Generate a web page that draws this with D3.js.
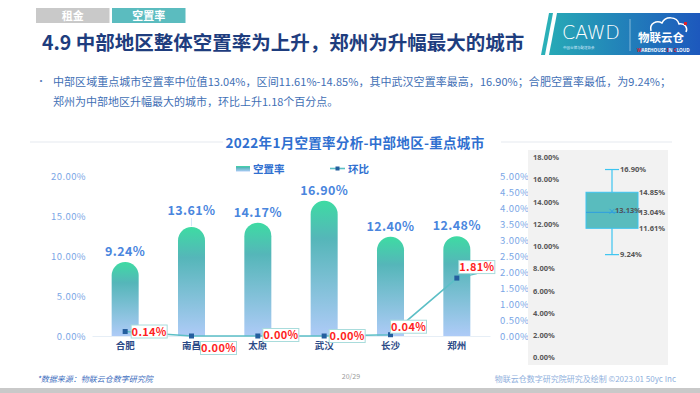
<!DOCTYPE html>
<html>
<head>
<meta charset="utf-8">
<script src="https://cdn.jsdelivr.net/npm/d3@7"></script>
<style>
  html, body { margin: 0; padding: 0; background: #fff; }
  svg { display: block; font-family: "Noto Sans CJK SC", "Noto Sans", sans-serif; }
</style>
</head>
<body>
<div id="chart"></div>
<script>
// data
var cities   = ['合肥', '南昌', '太原', '武汉', '长沙', '郑州'];
var rates    = [9.24, 13.61, 14.17, 16.90, 12.40, 12.48];   // 空置率 %
var changes  = [0.14, 0.00, 0.00, 0.00, 0.04, 1.81];        // 环比 %
var leftTicks  = [0, 5, 10, 15, 20];
var rightTicks = [0, 0.5, 1, 1.5, 2, 2.5, 3, 3.5, 4, 4.5, 5];
var boxTicks   = [0, 2, 4, 6, 8, 10, 12, 14, 16, 18];

var tabs      = ['租金', '空置率'];
var pageTitle = '4.9 中部地区整体空置率为上升，郑州为升幅最大的城市';
var bullet1   = '中部区域重点城市空置率中位值13.04%，区间11.61%-14.85%，其中武汉空置率最高，16.90%；合肥空置率最低，为9.24%；';
var bullet2   = '郑州为中部地区升幅最大的城市，环比上升1.18个百分点。';
var chartTitle = '2022年1月空置率分析-中部地区-重点城市';

// label box placement for the 环比 labels (offset from the point)
var labelShift = [[6, 0], [9, 12], [5, -1], [5, 0], [0, -8], [2, -11]];

var fmt = d3.format('.2f');
function pct(v) { return fmt(v) + '%'; }
function trunc2(v) { return Math.floor(v * 100 + 1e-6) / 100; }

var W = 700, H = 393;
var svg = d3.select('#chart').append('svg').attr('width', W).attr('height', H);
var defs = svg.append('defs');

// ---------- header
svg.selectAll('rect.tab')
    .data(tabs).enter().append('rect')
    .attr('x', function(d, i) { return 36 + i * 76; })
    .attr('y', 8).attr('width', 73.5).attr('height', 15)
    .attr('fill', function(d, i) { return i === 0 ? '#c9c9c9' : '#5bbcbf'; });
svg.selectAll('text.tab')
    .data(tabs).enter().append('text')
    .attr('x', function(d, i) { return 36 + i * 76 + 36.7; })
    .attr('y', 19.5).attr('text-anchor', 'middle')
    .attr('font-size', '11px').attr('font-weight', 'bold').attr('fill', '#fff')
    .text(function(d) { return d; });

svg.append('text')
    .attr('x', 42).attr('y', 50)
    .attr('font-size', '19.5px').attr('font-weight', 'bold').attr('fill', '#1e3d7e')
    .text(pageTitle);

// logo
var lg = defs.append('linearGradient').attr('id', 'logo-grad');
lg.append('stop').attr('offset', '0%').attr('stop-color', '#27a9b6');
lg.append('stop').attr('offset', '100%').attr('stop-color', '#1d58bd');
svg.append('polygon').attr('points', '549,13 553,13 545,55 541,55').attr('fill', '#2bb0b8');
svg.append('polygon').attr('points', '557,13 700,13 700,55 549,55').attr('fill', 'url(#logo-grad)');
svg.append('text').attr('x', 562).attr('y', 39)
    .attr('font-family', 'DejaVu Sans, sans-serif')
    .attr('font-size', '19px').attr('font-weight', '300').attr('fill', '#fff')
    .attr('textLength', 58).text('CAWD');
svg.append('text').attr('x', 563).attr('y', 48.5)
    .attr('font-size', '3.5px').attr('fill', '#dfefff').text('中国仓储与配送协会');
svg.append('line').attr('x1', 630).attr('x2', 630).attr('y1', 19).attr('y2', 51)
    .attr('stroke', '#fff').attr('stroke-opacity', 0.45);
svg.append('path')
    .attr('d', 'M651,31 C649,23 657,20 662,23 C665,16 677,16 679,24 C685,23 688,28 686,32')
    .attr('fill', 'none').attr('stroke', '#fff').attr('stroke-width', 1.5);
svg.append('rect').attr('x', 684).attr('y', 22).attr('width', 3).attr('height', 3).attr('fill', '#e0202a');
svg.append('text').attr('x', 638).attr('y', 42)
    .attr('font-size', '11.5px').attr('font-weight', 'bold').attr('fill', '#fff').text('物联云仓');
var wic = svg.append('text').attr('x', 637).attr('y', 51.5)
    .attr('font-family', '"Noto Sans", sans-serif')
    .attr('font-size', '4.6px').attr('font-weight', 'bold').attr('fill', '#fff');
[['W', '#e0202a'], ['AREHOUSE ', '#fff'], ['I', '#e0202a'], ['N ', '#fff'], ['C', '#e0202a'], ['LOUD', '#fff']]
    .forEach(function(p) { wic.append('tspan').attr('fill', p[1]).text(p[0]); });

// bullet text
svg.append('text').attr('x', 36).attr('y', 85)
    .attr('font-size', '10px').attr('fill', '#5a7db8').text('•');
svg.append('text').attr('x', 53).attr('y', 85.5)
    .attr('font-size', '11px').attr('fill', '#3f6fb5').attr('textLength', 618)
    .text(bullet1);
svg.append('text').attr('x', 53).attr('y', 106)
    .attr('font-size', '11px').attr('fill', '#3f6fb5')
    .text(bullet2);

// ---------- main chart
svg.append('line').attr('x1', 30).attr('x2', 223).attr('y1', 142).attr('y2', 142)
    .attr('stroke', '#eef1f4').attr('stroke-width', 1.5);
svg.append('line').attr('x1', 501).attr('x2', 672).attr('y1', 142).attr('y2', 142)
    .attr('stroke', '#eef1f4').attr('stroke-width', 1.5);
svg.append('text').attr('x', 355).attr('y', 148).attr('text-anchor', 'middle')
    .attr('font-size', '13.5px').attr('font-weight', 'bold').attr('fill', '#2f6fd0')
    .attr('letter-spacing', '0.3px')
    .text(chartTitle);

var x_scale = d3.scaleBand().domain(cities).range([92, 490]);
var yL = d3.scaleLinear().domain([0, 20]).range([336, 176]);
var yR = d3.scaleLinear().domain([0, 5]).range([336, 176]);

// axes
var leftAxis = svg.append('g').attr('transform', 'translate(86,0)')
    .call(d3.axisLeft(yL).tickValues(leftTicks).tickSize(0).tickPadding(0)
        .tickFormat(function(d) { return pct(d); }));
var rightAxis = svg.append('g').attr('transform', 'translate(500,0)')
    .call(d3.axisRight(yR).tickValues(rightTicks).tickSize(0).tickPadding(0)
        .tickFormat(function(d) { return pct(d); }));
[leftAxis, rightAxis].forEach(function(ax) {
    ax.select('.domain').remove();
    ax.selectAll('text')
        .attr('font-family', '"Noto Sans CJK SC", sans-serif')
        .attr('font-size', '9.5px').attr('fill', '#7aa6e6')
        .attr('letter-spacing', '0.4px');
});

var xAxis = svg.append('g').attr('transform', 'translate(0,336)')
    .call(d3.axisBottom(x_scale).tickSize(0).tickPadding(6));
xAxis.select('.domain').attr('stroke', '#e6eef6');
xAxis.selectAll('text')
    .attr('font-family', '"Noto Sans CJK SC", sans-serif')
    .attr('font-size', '9.5px').attr('font-weight', 'bold').attr('fill', '#2b4a86');

// bar gradient
var bg = defs.append('linearGradient').attr('id', 'bar-grad')
    .attr('x1', 0).attr('y1', 0).attr('x2', 0).attr('y2', 1);
bg.append('stop').attr('offset', '0%').attr('stop-color', '#3edba3');
bg.append('stop').attr('offset', '28%').attr('stop-color', '#55b6b9');
bg.append('stop').attr('offset', '100%').attr('stop-color', '#aecbf7');

var barW = 27, r = barW / 2;
svg.append('g').selectAll('path')
    .data(rates).enter().append('path')
    .attr('d', function(d, i) {
        var x0 = x_scale(cities[i]) + (x_scale.bandwidth() - barW) / 2;
        var top = yL(d);
        return 'M' + x0 + ',' + yL(0) + 'V' + (top + r) +
            'A' + r + ',' + r + ' 0 0 1 ' + (x0 + barW) + ',' + (top + r) +
            'V' + yL(0) + 'Z';
    })
    .attr('fill', 'url(#bar-grad)');

svg.append('g').selectAll('text')
    .data(rates).enter().append('text')
    .attr('x', function(d, i) { return x_scale(cities[i]) + x_scale.bandwidth() / 2; })
    .attr('y', function(d, i) { return yL(d) - (i === 1 ? 12 : 6); })
    .attr('text-anchor', 'middle')
    .attr('font-size', '12.5px').attr('font-weight', 'bold').attr('fill', '#4a86de')
    .attr('letter-spacing', '0.4px')
    .text(function(d) { return pct(d); });
// leader for 南昌 label
svg.append('line')
    .attr('x1', x_scale(cities[1]) + x_scale.bandwidth() / 2)
    .attr('x2', x_scale(cities[1]) + x_scale.bandwidth() / 2)
    .attr('y1', yL(rates[1]) - 9).attr('y2', yL(rates[1]) - 1)
    .attr('stroke', '#d6e6f8');

// line series
var cx = function(i) { return x_scale(cities[i]) + x_scale.bandwidth() / 2; };
var line = d3.line()
    .x(function(d, i) { return cx(i); })
    .y(function(d) { return yR(d); });
svg.append('path').datum(changes)
    .attr('d', line).attr('fill', 'none')
    .attr('stroke', '#5cbfc6').attr('stroke-width', 1.6);

// leader for 郑州 label
svg.append('line')
    .attr('x1', cx(5)).attr('y1', yR(changes[5]))
    .attr('x2', cx(5) + labelShift[5][0] + 18).attr('y2', yR(changes[5]) + labelShift[5][1] + 6.5)
    .attr('stroke', '#5cbfc6').attr('stroke-width', 1.2);

svg.append('g').selectAll('rect')
    .data(changes).enter().append('rect')
    .attr('x', function(d, i) { return cx(i) - 2.5; })
    .attr('y', function(d) { return yR(d) - 2.5; })
    .attr('width', 5).attr('height', 5)
    .attr('fill', '#245e9e');

var lbl = svg.append('g').selectAll('g')
    .data(changes).enter().append('g')
    .attr('transform', function(d, i) {
        return 'translate(' + (cx(i) + labelShift[i][0]) + ',' + (yR(d) + labelShift[i][1]) + ')';
    });
lbl.append('rect')
    .attr('x', 0).attr('y', -6.5).attr('width', 36).attr('height', 13)
    .attr('fill', '#fff').attr('stroke', '#a9dcdc').attr('stroke-width', 1);
lbl.append('text')
    .attr('x', 18).attr('y', 4.2).attr('text-anchor', 'middle')
    .attr('font-size', '11px').attr('font-weight', 'bold').attr('fill', '#ff1f1f')
    .attr('letter-spacing', '0.3px')
    .text(function(d) { return pct(d); });

// legend
svg.append('rect').attr('x', 236).attr('y', 166).attr('width', 14).attr('height', 5.5)
    .attr('fill', 'url(#bar-grad)');
svg.append('text').attr('x', 253).attr('y', 172.5)
    .attr('font-size', '10.5px').attr('font-weight', 'bold').attr('fill', '#2f6fd0').text('空置率');
svg.append('line').attr('x1', 330).attr('x2', 345).attr('y1', 168.5).attr('y2', 168.5)
    .attr('stroke', '#5cbfc6').attr('stroke-width', 1.6);
svg.append('rect').attr('x', 335.5).attr('y', 166.5).attr('width', 4).attr('height', 4).attr('fill', '#245e9e');
svg.append('text').attr('x', 348).attr('y', 172.5)
    .attr('font-size', '10.5px').attr('font-weight', 'bold').attr('fill', '#2f6fd0').text('环比');

// ---------- box plot panel
svg.append('rect').attr('x', 528).attr('y', 150).attr('width', 140).attr('height', 215)
    .attr('fill', '#f2f2f2');
var yB = d3.scaleLinear().domain([0, 18]).range([357.3, 157.3]);
var boxAxis = svg.append('g').attr('transform', 'translate(533,0)')
    .call(d3.axisRight(yB).tickValues(boxTicks).tickSize(0).tickPadding(0)
        .tickFormat(function(d) { return pct(d); }));
boxAxis.select('.domain').remove();
boxAxis.selectAll('text')
    .attr('font-family', '"Noto Sans", sans-serif')
    .attr('font-size', '7.5px').attr('font-weight', 'bold').attr('fill', '#595959');

// statistics (exclusive quartiles)
var sorted = rates.slice().sort(d3.ascending);
function qExc(arr, p) {
    var pos = (arr.length + 1) * p;
    var lo = Math.floor(pos), f = pos - lo;
    return arr[lo - 1] + f * (arr[lo] - arr[lo - 1]);
}
var st = {
    min: d3.min(sorted), max: d3.max(sorted),
    q1: qExc(sorted, 0.25), q3: qExc(sorted, 0.75),
    med: d3.median(sorted), mean: d3.mean(sorted)
};
var bx0 = 586, bx1 = 638, bcx = 612;
var boxStroke = '#3cc4f0';
svg.append('line').attr('x1', bcx).attr('x2', bcx).attr('y1', yB(st.max)).attr('y2', yB(st.q3))
    .attr('stroke', boxStroke).attr('stroke-width', 1.2);
svg.append('line').attr('x1', bcx).attr('x2', bcx).attr('y1', yB(st.q1)).attr('y2', yB(st.min))
    .attr('stroke', boxStroke).attr('stroke-width', 1.2);
[st.max, st.min].forEach(function(v) {
    svg.append('line').attr('x1', bcx - 7).attr('x2', bcx + 7).attr('y1', yB(v)).attr('y2', yB(v))
        .attr('stroke', boxStroke).attr('stroke-width', 1.2);
});
svg.append('rect').attr('x', bx0).attr('y', yB(st.q3))
    .attr('width', bx1 - bx0).attr('height', yB(st.q1) - yB(st.q3))
    .attr('fill', '#59bcbe').attr('stroke', boxStroke).attr('stroke-width', 1);
svg.append('line').attr('x1', bx0).attr('x2', bx1).attr('y1', yB(st.med)).attr('y2', yB(st.med))
    .attr('stroke', '#2f9fe0').attr('stroke-width', 1);
// mean marker
var my = yB(st.mean);
svg.append('path').attr('d', 'M' + (bcx - 2.5) + ',' + (my - 2.5) + 'L' + (bcx + 2.5) + ',' + (my + 2.5) +
        'M' + (bcx - 2.5) + ',' + (my + 2.5) + 'L' + (bcx + 2.5) + ',' + (my - 2.5))
    .attr('stroke', '#2f9fe0').attr('stroke-width', 1);

var boxLabels = [
    [st.max, bcx + 8, 0], [st.min, bcx + 8, 0],
    [st.q3, bx1 + 1, 0], [st.med, bx1 + 1, 0], [st.q1, bx1 + 1, 0],
    [st.mean, bcx + 3, -1.5]
];
svg.append('g').selectAll('text')
    .data(boxLabels).enter().append('text')
    .attr('x', function(d) { return d[1]; })
    .attr('y', function(d) { return yB(d[0]) + 2.7 + d[2]; })
    .attr('font-family', '"Noto Sans", sans-serif')
    .attr('font-size', '7.5px').attr('font-weight', 'bold').attr('fill', '#555')
    .text(function(d) { return pct(trunc2(d[0])); });

// ---------- footer
svg.append('text').attr('x', 37).attr('y', 382)
    .attr('font-size', '8px').attr('font-style', 'italic').attr('fill', '#3f6fc0')
    .text('*数据来源：物联云仓数字研究院');
svg.append('text').attr('x', 351).attr('y', 379).attr('text-anchor', 'middle')
    .attr('font-size', '7px').attr('fill', '#999').text('20/29');
svg.append('text').attr('x', 676).attr('y', 382).attr('text-anchor', 'end')
    .attr('font-size', '8px').attr('fill', '#8fb0dd')
    .text('物联云仓数字研究院研究及绘制   ©2023.01 50yc Inc');
svg.append('rect').attr('x', 0).attr('y', 388).attr('width', W).attr('height', 5)
    .attr('fill', '#c9c9c9');
</script>
</body>
</html>
